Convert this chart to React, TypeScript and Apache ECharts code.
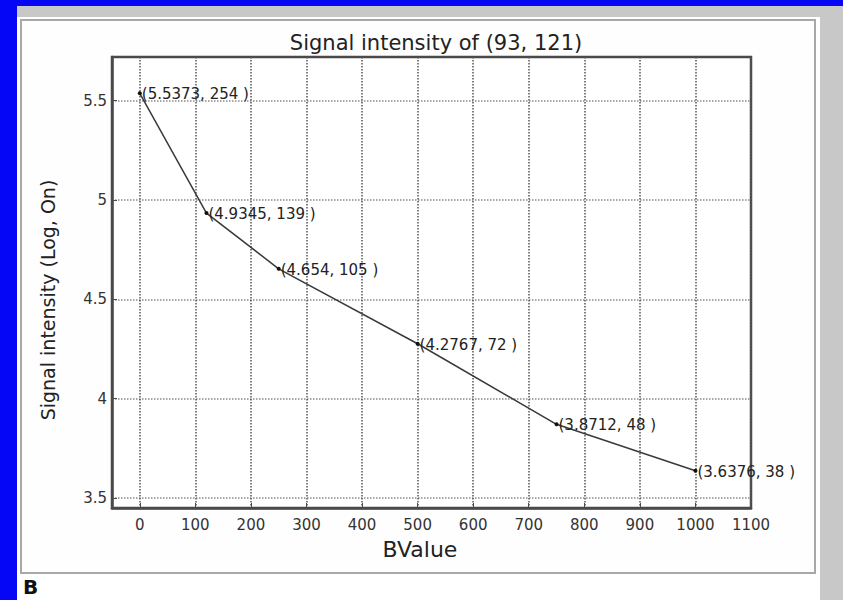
import React, { useEffect, useRef } from "react";
import * as echarts from "echarts";

const bValues = [0, 120, 250, 500, 750, 1000];
const logSignal = [5.5373, 4.9345, 4.654, 4.2767, 3.8712, 3.6376];
const logLabels = ["5.5373", "4.9345", "4.654", "4.2767", "3.8712", "3.6376"];
const rawSignal = [254, 139, 105, 72, 48, 38];
const xTicks = [0, 100, 200, 300, 400, 500, 600, 700, 800, 900, 1000, 1100];
const yTicks = [3.5, 4, 4.5, 5, 5.5];
const titleText = "Signal intensity of (93, 121)";
const xName = "BValue";
const yName = "Signal intensity (Log, On)";
const panelTag = "B";

const FONT = "DejaVu Sans";

export default function App() {
  const ref = useRef<HTMLDivElement>(null);
  useEffect(() => {
    if (!ref.current) return;
    const chart = echarts.init(ref.current, null, { renderer: "svg" });
    const labelData = bValues.map((b, i) => [b, logSignal[i], i]);
    chart.setOption({
      animation: false,
      backgroundColor: "#0606f6",
      title: {
        text: titleText,
        left: 431,
        top: 27,
        textAlign: "center",
        textStyle: { fontFamily: FONT, fontSize: 21, fontWeight: "normal", color: "#222" },
      },
      graphic: [
        { type: "rect", z: -100, shape: { x: 17, y: 6, width: 826, height: 594 }, style: { fill: "#c8c8c8" } },
        { type: "rect", z: -99, shape: { x: 17, y: 17, width: 803, height: 583 }, style: { fill: "#ffffff" } },
        {
          type: "rect",
          z: -98,
          shape: { x: 21, y: 20, width: 794, height: 553 },
          style: { fill: "#fefefe", stroke: "#a8a8a8", lineWidth: 2 },
        },
        {
          type: "text",
          z: 10,
          x: 48,
          y: 300,
          rotation: Math.PI / 2,
          style: {
            text: yName,
            fontFamily: FONT,
            fontSize: 19,
            fill: "#222",
            align: "center",
            verticalAlign: "middle",
          },
        },
        {
          type: "text",
          z: 10,
          x: 420,
          y: 549,
          style: {
            text: xName,
            fontFamily: FONT,
            fontSize: 22,
            fill: "#222",
            align: "center",
            verticalAlign: "middle",
          },
        },
        {
          type: "text",
          z: 10,
          x: 23,
          y: 587,
          style: {
            text: panelTag,
            fontFamily: FONT,
            fontSize: 20,
            fontWeight: "bold",
            fill: "#111",
            align: "left",
            verticalAlign: "middle",
          },
        },
      ],
      grid: {
        left: 112,
        right: 92,
        top: 57,
        bottom: 92,
        show: true,
        backgroundColor: "#ffffff",
        borderColor: "#4a4a4a",
        borderWidth: 2.5,
      },
      xAxis: {
        type: "value",
        min: -50,
        max: 1100,
        axisLine: { show: true, onZero: false, lineStyle: { color: "#4a4a4a", width: 2.5 } },
        axisTick: { show: true, inside: true, length: 5, customValues: xTicks, lineStyle: { color: "#4a4a4a" } },
        axisLabel: {
          customValues: xTicks,
          margin: 9,
          fontFamily: FONT,
          fontSize: 15,
          color: "#333",
          formatter: (v: number) => String(v),
        },
        splitLine: { show: true, lineStyle: { type: "dotted", color: "#555", width: 1.5 } },
      },
      yAxis: {
        type: "value",
        min: 3.45,
        max: 5.72,
        axisLine: { show: true, onZero: false, lineStyle: { color: "#4a4a4a", width: 2.5 } },
        axisTick: { show: true, inside: true, length: 5, customValues: yTicks, lineStyle: { color: "#4a4a4a" } },
        axisLabel: {
          customValues: yTicks,
          margin: 5,
          fontFamily: FONT,
          fontSize: 15,
          color: "#333",
          formatter: (v: number) => String(v),
        },
        splitLine: { show: true, lineStyle: { type: "dotted", color: "#8a8a8a", width: 1.5 } },
      },
      series: [
        {
          type: "line",
          data: bValues.map((b, i) => [b, logSignal[i]]),
          symbol: "circle",
          symbolSize: 4,
          lineStyle: { color: "#3a3a3a", width: 1.5 },
          itemStyle: { color: "#111" },
          z: 3,
        },
        {
          type: "custom",
          data: labelData,
          z: 4,
          renderItem: (params: any, api: any) => {
            const p = api.coord([api.value(0), api.value(1)]);
            const i = api.value(2);
            return {
              type: "text",
              x: p[0] + 2,
              y: p[1] + 1,
              style: {
                text: `(${logLabels[i]}, ${rawSignal[i]} )`,
                fontFamily: FONT,
                fontSize: 15,
                fill: "#222",
                align: "left",
                verticalAlign: "middle",
              },
            };
          },
        },
      ],
    });
    return () => chart.dispose();
  }, []);
  return (
    <div
      ref={ref}
      style={{ position: "absolute", left: 0, top: 0, width: 843, height: 600 }}
    />
  );
}
